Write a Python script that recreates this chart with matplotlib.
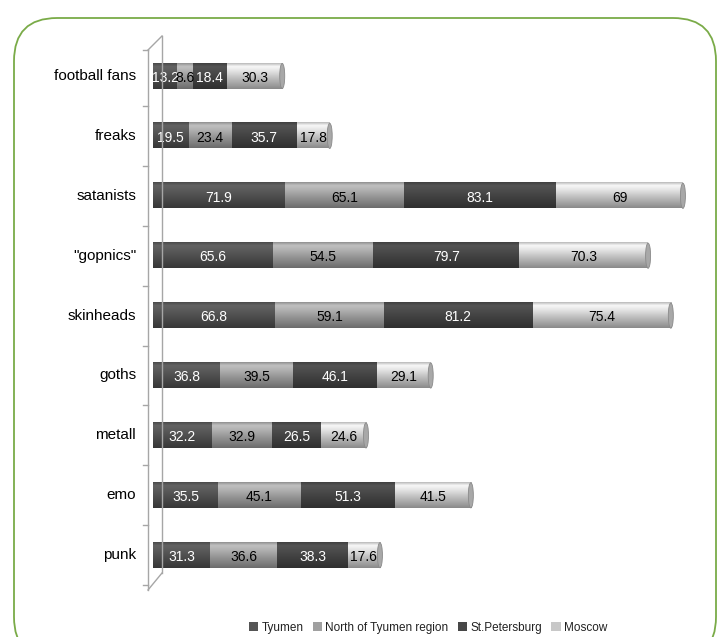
import numpy as np
import matplotlib
matplotlib.use("Agg")
import matplotlib.pyplot as plt
from matplotlib.patches import FancyBboxPatch, Ellipse
from matplotlib.lines import Line2D

plt.rcParams['font.family'] = ['Liberation Sans', 'DejaVu Sans']

categories = ["football fans", "freaks", "satanists", "\"gopnics\"", "skinheads",
              "goths", "metall", "emo", "punk"]
series_names = ["Tyumen", "North of Tyumen region", "St.Petersburg", "Moscow"]
tyumen = [13.2, 19.5, 71.9, 65.6, 66.8, 36.8, 32.2, 35.5, 31.3]
north = [8.6, 23.4, 65.1, 54.5, 59.1, 39.5, 32.9, 45.1, 36.6]
stpete = [18.4, 35.7, 83.1, 79.7, 81.2, 46.1, 26.5, 51.3, 38.3]
moscow = [30.3, 17.8, 69, 70.3, 75.4, 29.1, 24.6, 41.5, 17.6]
series = [tyumen, north, stpete, moscow]
base_colors = ["#4f4f4f", "#9a9a9a", "#434343", "#c6c6c6"]
legend_colors = ["#555555", "#a0a0a0", "#474747", "#c8c8c8"]
text_colors = ["white", "black", "white", "black"]

W, H = 718, 637
fig = plt.figure(figsize=(W / 100, H / 100), dpi=100)

def fx(px):
    return px / W

def fy(py):
    return 1 - py / H

# green rounded frame
frame = FancyBboxPatch((fx(14), fy(660)), fx(702), (660 - 18) / H,
                       boxstyle="round,pad=0,rounding_size=0.06",
                       transform=fig.transFigure, fill=False,
                       edgecolor="#7aab48", linewidth=1.3, clip_on=False,
                       mutation_aspect=W / H)
fig.add_artist(frame)

# axes
ax_left, ax_right = 153, 700
ax_top, ax_bot = 45, 600
ax = fig.add_axes([fx(ax_left), fy(ax_bot), (ax_right - ax_left) / W, (ax_bot - ax_top) / H])
px_per_unit = 1.833
row = 59.9
top_off = (76 - ax_top) / row
ax.axis("off")

# 3D-like axis wall lines
axis_col = "#a6a6a6"
fig.add_artist(Line2D([fx(148), fx(148)], [fy(50), fy(590)], color=axis_col, lw=1.0, transform=fig.transFigure))
fig.add_artist(Line2D([fx(162), fx(162)], [fy(36), fy(573)], color=axis_col, lw=1.0, transform=fig.transFigure))
fig.add_artist(Line2D([fx(148), fx(162)], [fy(50), fy(36)], color=axis_col, lw=1.0, transform=fig.transFigure))
fig.add_artist(Line2D([fx(148), fx(162)], [fy(590), fy(573)], color=axis_col, lw=1.0, transform=fig.transFigure))
for k in range(len(categories) + 1):
    yy = 76 - row / 2 + k * row
    yy = min(max(yy, 50), 590)
    fig.add_artist(Line2D([fx(143), fx(148)], [fy(yy), fy(yy)], color=axis_col, lw=1.0, transform=fig.transFigure))

# gradient profile (top -> bottom)
prof_t = np.array([0.0, 0.12, 0.3, 0.6, 0.85, 1.0])
prof_v = np.array([0.95, 1.25, 1.15, 0.95, 0.8, 0.7])
tt = np.linspace(0, 1, 40)
prof = np.interp(tt, prof_t, prof_v)

def shade(hexcol):
    rgb = np.array(matplotlib.colors.to_rgb(hexcol))
    img = np.clip(rgb[None, :] * prof[:, None], 0, 1)
    return img[:, None, :]

bar_h = 0.42
y = np.arange(len(categories))
lefts = np.zeros(len(categories))
for s, vals in enumerate(series):
    vals = np.array(vals, dtype=float)
    for i in range(len(categories)):
        x0, x1 = lefts[i], lefts[i] + vals[i]
        ax.imshow(shade(base_colors[s]), extent=[x0, x1, y[i] + bar_h / 2, y[i] - bar_h / 2],
                  aspect="auto", interpolation="bilinear", zorder=2)
        ax.text((x0 + x1) / 2, y[i] + 0.03, f"{vals[i]:g}", ha="center", va="center",
                color=text_colors[s], fontsize=10, zorder=5)
    lefts += vals

# end caps
cap_w = 5 / px_per_unit
for i in range(len(categories)):
    e = Ellipse((lefts[i], y[i]), cap_w, bar_h, facecolor="#a8a8a8", edgecolor="#8a8a8a", lw=0.6, zorder=3)
    ax.add_patch(e)

ax.set_xlim(0, (ax_right - ax_left) / px_per_unit)
ax.set_ylim((ax_bot - ax_top) / row - top_off, -top_off)

# category labels
for i, c in enumerate(categories):
    fig.text(fx(136), fy(76 + i * row), c, ha="right", va="center", fontsize=11, color="#000000")

# legend
handles = [matplotlib.patches.Patch(facecolor=legend_colors[k], edgecolor="none") for k in range(4)]
fig.legend(handles, series_names, loc="center", bbox_to_anchor=(fx(428), fy(628)), ncol=4,
           frameon=False, fontsize=8.5, handlelength=0.8, handleheight=0.8, handletextpad=0.25,
           columnspacing=0.8, labelcolor="#222222")

fig.savefig("out.png", dpi=100)
